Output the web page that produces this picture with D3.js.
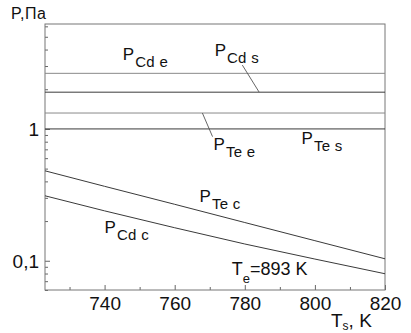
<!DOCTYPE html>
<html>
<head>
<meta charset="utf-8">
<script src="https://cdn.jsdelivr.net/npm/d3@7"></script>
<style>
body { margin: 0; background: #fff; }
text { font-family: "Liberation Sans", Arial, sans-serif; fill: #111; }
</style>
</head>
<body>
<script>
// chart data
var tempK = [723, 740, 760, 780, 800, 820];
var pTeC = [0.481, 0.367, 0.268, 0.195, 0.142, 0.1035];
var pCdC = [0.311, 0.239, 0.178, 0.134, 0.103, 0.0797];

var levelNames = ["Cd e", "Cd s", "Te e", "Te s"];
var levelValues = [2.64, 1.90, 1.32, 1.0];

var xTicks = [740, 760, 780, 800, 820];
var xMinor = [730, 750, 770, 790, 810];
var yTicks = [0.1, 1];
var yTickLabels = ["0,1", "1"];

window.onload = function(){

    var w = 411, h = 333;
    var left = 45, right = 385, top = 24, bottom = 290;

    var svg = d3.select("body").append("svg")
        .attr("width", w)
        .attr("height", h);

    var x = d3.scaleLinear().domain([723, 820]).range([left, right]);
    var y = d3.scaleLog().domain([0.06, 6.25]).range([bottom, top]);

    // minor log ticks 2..9 per decade
    var yMinor = [];
    [0.01, 0.1, 1].forEach(function(d){
        for (var k = 2; k <= 9; k++) {
            var v = +(d * k).toPrecision(3);
            if (v >= 0.06 && v <= 6.25) yMinor.push(v);
        }
    });

    // x axis, ticks pointing inward
    svg.append("g")
        .attr("transform", "translate(0," + bottom + ")")
        .call(d3.axisBottom(x).tickValues(xMinor).tickSize(-3).tickFormat(""))
        .call(function(g){ g.select(".domain").remove(); g.selectAll("line").attr("stroke", "#666"); });

    var xa = svg.append("g")
        .attr("transform", "translate(0," + bottom + ")")
        .call(d3.axisBottom(x).tickValues(xTicks).tickSize(-5).tickPadding(0).tickFormat(d3.format("d")));
    xa.select(".domain").remove();
    xa.selectAll("line").attr("stroke", "#666");
    xa.selectAll("text")
        .attr("y", 20)
        .attr("dy", 0)
        .style("font-size", "19px")
        .style("font-family", "Liberation Sans, Arial, sans-serif")
        .attr("fill", "#111");

    // y axis
    svg.append("g")
        .attr("transform", "translate(" + left + ",0)")
        .call(d3.axisLeft(y).tickValues(yMinor).tickSize(-3).tickFormat(""))
        .call(function(g){ g.select(".domain").remove(); g.selectAll("line").attr("stroke", "#666"); });

    var ya = svg.append("g")
        .attr("transform", "translate(" + left + ",0)")
        .call(d3.axisLeft(y).tickValues(yTicks).tickSize(-5).tickPadding(0)
            .tickFormat(function(d, i){ return yTickLabels[i]; }));
    ya.select(".domain").remove();
    ya.selectAll("line").attr("stroke", "#666");
    ya.selectAll("text")
        .attr("x", -6)
        .attr("dy", "0.36em")
        .style("font-size", "19px")
        .style("font-family", "Liberation Sans, Arial, sans-serif")
        .attr("fill", "#111");

    // frame
    svg.append("rect")
        .attr("x", left).attr("y", top)
        .attr("width", right - left).attr("height", bottom - top)
        .attr("fill", "none")
        .attr("stroke", "#777")
        .attr("stroke-width", 1);

    // horizontal levels
    svg.selectAll(".level")
        .data(levelValues)
        .enter().append("line")
        .attr("class", "level")
        .attr("x1", left).attr("x2", right)
        .attr("y1", function(d){ return y(d); })
        .attr("y2", function(d){ return y(d); })
        .attr("stroke", function(d, i){ return i % 2 === 0 ? "#8a8a8a" : "#3a3a3a"; })
        .attr("stroke-width", 1);

    // curves
    var line = d3.line()
        .x(function(d){ return x(d[0]); })
        .y(function(d){ return y(d[1]); });

    [pTeC, pCdC].forEach(function(series){
        svg.append("path")
            .datum(d3.zip(tempK, series))
            .attr("d", line)
            .attr("fill", "none")
            .attr("stroke", "#3a3a3a")
            .attr("stroke-width", 1);
    });

    // leader lines [T1, P1, T2, P2]
    var leaders = [[779.3, 3.05, 784.1, 1.90], [767.9, 1.32, 770.8, 0.874]];
    svg.selectAll(".leader")
        .data(leaders)
        .enter().append("line")
        .attr("x1", function(d){ return x(d[0]); })
        .attr("y1", function(d){ return y(d[1]); })
        .attr("x2", function(d){ return x(d[2]); })
        .attr("y2", function(d){ return y(d[3]); })
        .attr("stroke", "#555")
        .attr("stroke-width", 0.9);

    // curve labels: [T, P, subscript]
    var labels = [
        [745.2, 3.33, "Cd e"],
        [771.4, 3.57, "Cd s"],
        [771.1, 0.693, "Te e"],
        [796.2, 0.77, "Te s"],
        [767.1, 0.28, "Te c"],
        [740.0, 0.163, "Cd c"]
    ];
    labels.forEach(function(d){
        var t = svg.append("text")
            .attr("x", x(d[0]))
            .attr("y", y(d[1]))
            .style("font-size", "17px");
        t.append("tspan").text("P");
        t.append("tspan")
            .attr("dy", 7)
            .attr("dx", 1)
            .style("font-size", "15px")
            .style("letter-spacing", "0.3px")
            .text(d[2]);
    });

    // T_e note
    var te = svg.append("text")
        .attr("x", x(776.3))
        .attr("y", y(0.0783))
        .style("font-size", "18px");
    te.append("tspan").text("T");
    te.append("tspan").attr("dy", 8).style("font-size", "13px").text("e");
    te.append("tspan").attr("dy", -8).text("=893 K");

    // axis titles
    svg.append("text")
        .attr("x", 11)
        .attr("y", 19)
        .style("font-size", "16px")
        .style("letter-spacing", "0.5px")
        .text("P,Па");

    var xt = svg.append("text")
        .attr("x", 331)
        .attr("y", 327)
        .style("font-size", "19px");
    xt.append("tspan").text("T");
    xt.append("tspan").attr("dy", 3).style("font-size", "12px").text("s");
    xt.append("tspan").attr("dy", -3).text(", K");
};
</script>
</body>
</html>
